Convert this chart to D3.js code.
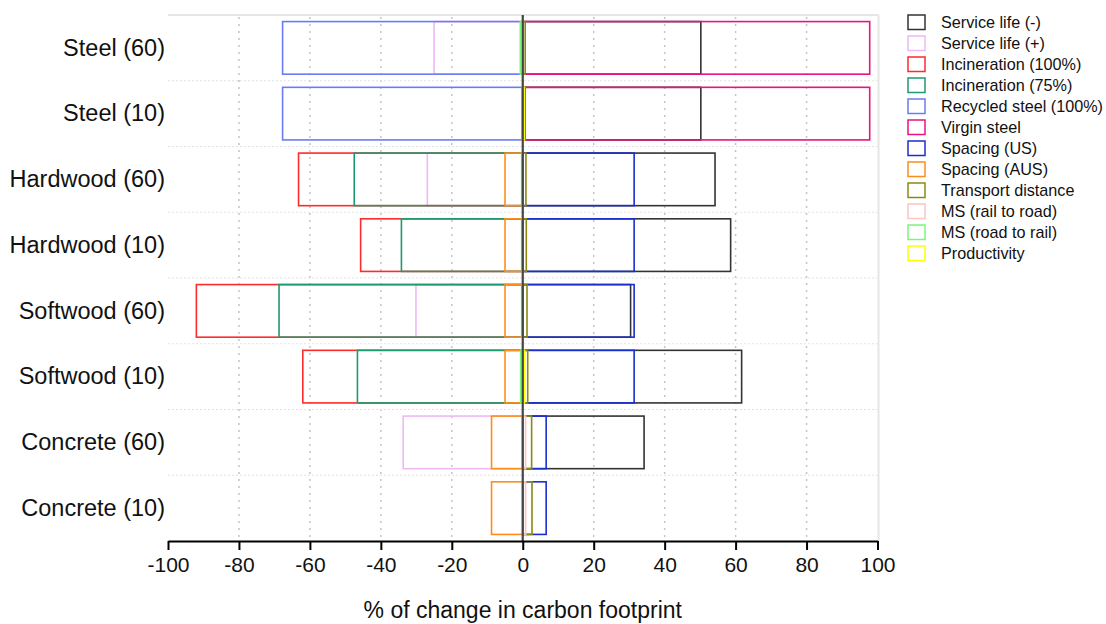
<!DOCTYPE html>
<html>
<head>
<meta charset="utf-8">
<script src="https://cdn.jsdelivr.net/npm/d3@7/dist/d3.min.js"></script>
<style>
  html, body { margin: 0; padding: 0; background: #fff; }
  svg { display: block; font-family: "Liberation Sans", Arial, sans-serif; }
</style>
</head>
<body>
<svg id="chart" width="1106" height="624"></svg>
<script>
// Sensitivity of carbon footprint by scenario (% change)
const categories = ["Steel (60)", "Steel (10)", "Hardwood (60)", "Hardwood (10)",
                    "Softwood (60)", "Softwood (10)", "Concrete (60)", "Concrete (10)"];

const seriesNames = ["Service life (-)", "Service life (+)", "Incineration (100%)", "Incineration (75%)",
                     "Recycled steel (100%)", "Virgin steel", "Spacing (US)", "Spacing (AUS)",
                     "Transport distance", "MS (rail to road)", "MS (road to rail)", "Productivity"];

const seriesColors = ["#333333", "#f0b8f4", "#ff2a2a", "#1f9a6e", "#6a7cf5", "#e8137f",
                      "#1a2fd0", "#ff8c1a", "#8a8a10", "#ffc4c4", "#7cf57c", "#ffff00"];

// one value per category, null where the scenario does not apply
const serviceLifeMinus = [50.2, 50.2, 54.2, 58.6, 30.4, 61.7, 34.2, null];
const serviceLifePlus  = [-25.0, null, -26.9, null, -30.1, null, -33.7, null];
const incineration100  = [null, null, -63.2, -45.7, -92.0, -62.0, null, null];
const incineration75   = [null, null, -47.5, -34.2, -68.7, -46.6, null, null];
const recycledSteel    = [-67.7, -67.7, null, null, null, null, null, null];
const virginSteel      = [97.8, 97.8, null, null, null, null, null, null];
const spacingUS        = [null, null, 31.4, 31.4, 31.4, 31.4, 6.6, 6.6];
const spacingAUS       = [null, null, -5.0, -5.0, -5.0, -5.0, -8.8, -8.8];
const transportDist    = [0.7, 0.7, 0.9, 1.0, 1.2, 1.4, 2.5, 2.6];
const msRailToRoad     = [null, null, null, null, null, null, 0.8, 0.8];
const msRoadToRail     = [-0.7, -0.2, -0.3, -0.3, -0.3, -0.6, null, null];
const productivity     = [null, 0.4, null, null, null, 0.5, null, null];

const xTicks = [-100, -80, -60, -40, -20, 0, 20, 40, 60, 80, 100];

const seriesValues = [serviceLifeMinus, serviceLifePlus, incineration100, incineration75,
                      recycledSteel, virginSteel, spacingUS, spacingAUS,
                      transportDist, msRailToRoad, msRoadToRail, productivity];

const svg = d3.select("#chart");
const margin = { left: 168, right: 228, top: 15, bottom: 83 };
const W = 1106, H = 624;
const plotB = H - margin.bottom;

const x = d3.scaleLinear().domain([-100, 100]).range([margin.left, 877.5]);
const y = d3.scaleBand().domain(categories).range([margin.top, plotB]).paddingInner(0.2).paddingOuter(0.1);

// panel frame (top and right)
svg.append("line").attr("x1", x(-100)).attr("x2", x(100) + 1).attr("y1", margin.top).attr("y2", margin.top)
  .attr("stroke", "#e6e6e6").attr("stroke-width", 2);
svg.append("line").attr("x1", x(100) + 1).attr("x2", x(100) + 1).attr("y1", margin.top).attr("y2", plotB)
  .attr("stroke", "#e6e6e6").attr("stroke-width", 2);

// vertical dotted grid
svg.append("g").selectAll("line").data(xTicks.filter(t => t !== 0 && Math.abs(t) !== 100)).join("line")
  .attr("x1", d => x(d)).attr("x2", d => x(d))
  .attr("y1", margin.top + 2).attr("y2", plotB)
  .attr("stroke", "#c4c4c4").attr("stroke-width", 1.5).attr("stroke-dasharray", "2,5");

// horizontal dotted separators between categories
const step = y.step();
svg.append("g").selectAll("line").data(categories.slice(1)).join("line")
  .attr("x1", x(-100)).attr("x2", x(100))
  .attr("y1", d => y(d) - step * 0.1).attr("y2", d => y(d) - step * 0.1)
  .attr("stroke", "#e2e2e2").attr("stroke-width", 1).attr("stroke-dasharray", "2,2");

// outlined bars, drawn series by series so later scenarios sit on top
const barsG = svg.append("g");
seriesValues.forEach((vals, si) => {
  const data = categories.map((c, i) => ({ c, v: vals[i] })).filter(d => d.v !== null);
  barsG.append("g").selectAll("rect").data(data).join("rect")
    .attr("x", d => Math.min(x(0), x(d.v)))
    .attr("width", d => Math.abs(x(d.v) - x(0)))
    .attr("y", d => y(d.c))
    .attr("height", y.bandwidth())
    .attr("fill", "none")
    .attr("stroke", seriesColors[si])
    .attr("stroke-width", 1.6);
});

// zero reference line
svg.append("line").attr("x1", x(0)).attr("x2", x(0)).attr("y1", margin.top).attr("y2", plotB)
  .attr("stroke", "#454545").attr("stroke-width", 2.2);

// category labels
svg.append("g").selectAll("text").data(categories).join("text")
  .attr("x", margin.left - 3)
  .attr("y", d => y(d) + y.bandwidth() / 2)
  .attr("dy", "0.33em")
  .attr("text-anchor", "end")
  .attr("font-size", 23.5)
  .attr("fill", "#111")
  .text(d => d);

// bottom axis
const axis = svg.append("g").attr("transform", `translate(0,${plotB})`)
  .call(d3.axisBottom(x).tickValues(xTicks).tickFormat(d => String(d))
    .tickSize(9).tickPadding(7).tickSizeOuter(0));
axis.select(".domain").attr("stroke", "#000").attr("stroke-width", 2);
axis.selectAll(".tick line").attr("stroke", "#000").attr("stroke-width", 2);
axis.selectAll(".tick text").attr("font-size", 21).attr("fill", "#111")
  .attr("font-family", "'Liberation Sans', Arial, sans-serif");

svg.append("text")
  .attr("x", x(0)).attr("y", 618)
  .attr("text-anchor", "middle")
  .attr("font-size", 23)
  .attr("fill", "#111")
  .text("% of change in carbon footprint");

// legend
const legend = svg.append("g").attr("transform", "translate(908,15)");
const items = legend.selectAll("g").data(seriesNames).join("g")
  .attr("transform", (d, i) => `translate(0,${i * 21})`);
items.append("rect")
  .attr("x", 0).attr("y", 0).attr("width", 17).attr("height", 14.5)
  .attr("fill", "none")
  .attr("stroke", (d, i) => seriesColors[i])
  .attr("stroke-width", 1.5);
items.append("text")
  .attr("x", 33).attr("y", 7.5).attr("dy", "0.36em")
  .attr("font-size", 16.2)
  .attr("fill", "#111")
  .text(d => d);
</script>
</body>
</html>
